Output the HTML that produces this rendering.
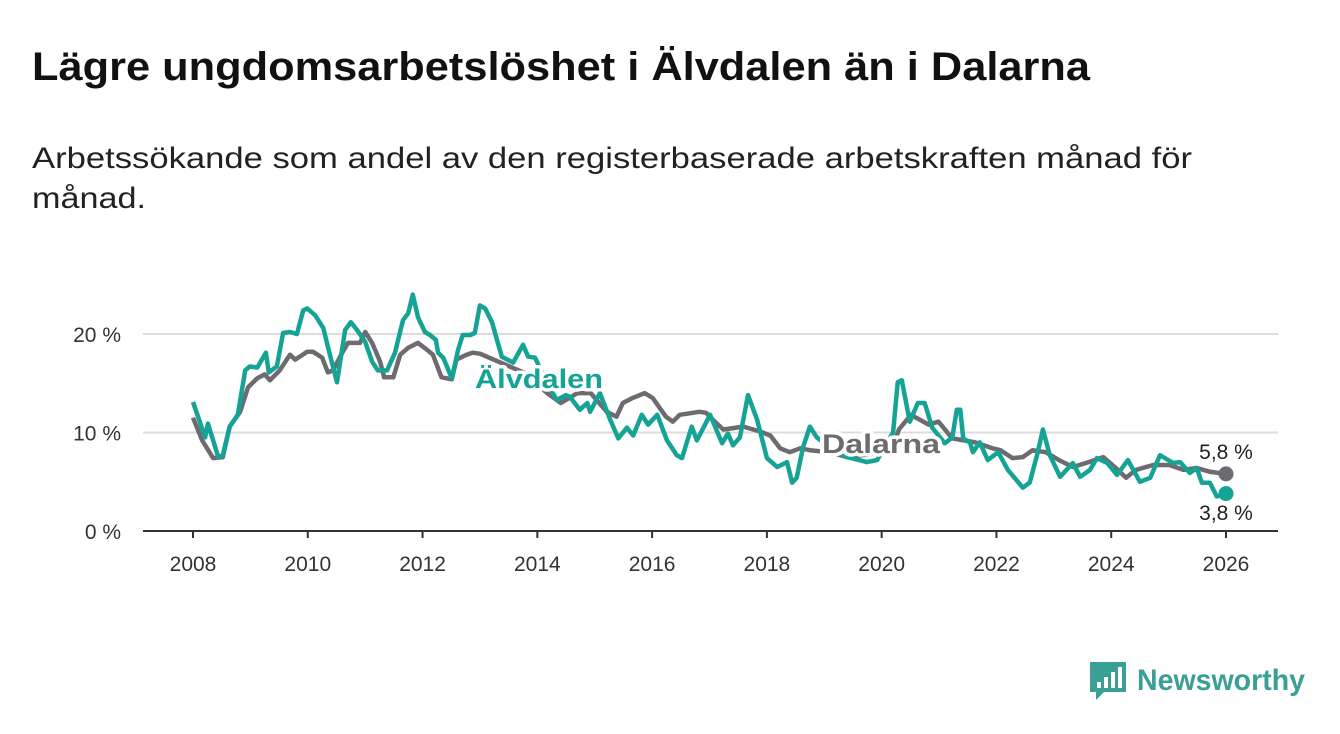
<!DOCTYPE html>
<html><head><meta charset="utf-8"><style>
body{margin:0;background:#fff;width:1340px;height:734px;overflow:hidden}
svg{display:block;font-family:"Liberation Sans",sans-serif}
</style></head><body>
<svg id="chart" width="1340" height="734">
<text x="32" y="80" font-size="40" font-weight="bold" fill="#111" textLength="1058" lengthAdjust="spacingAndGlyphs">Lägre ungdomsarbetslöshet i Älvdalen än i Dalarna</text>
<text x="32" y="168" font-size="30" fill="#222" textLength="1160" lengthAdjust="spacingAndGlyphs">Arbetssökande som andel av den registerbaserade arbetskraften månad för</text>
<text x="32" y="208" font-size="30" fill="#222" textLength="114" lengthAdjust="spacingAndGlyphs">månad.</text>
<g id="axes"></g>
<g id="series"></g>
<g id="labels"></g>
<g>
<path d="M1090 662 h36 v30 h-22 l-8 8 v-8 h-6 z" fill="#3aa096"/>
<rect x="1097" y="682" width="4" height="6" fill="#fff"/><rect x="1104" y="677" width="4" height="11" fill="#fff"/><rect x="1111" y="672" width="4" height="16" fill="#fff"/><rect x="1118" y="667" width="4" height="21" fill="#fff"/>
<text x="1137" y="690" font-size="30" font-weight="bold" fill="#3aa096" textLength="168" lengthAdjust="spacingAndGlyphs">Newsworthy</text>
</g>
</svg>
<script>
const yTicks=[0,10,20];
const yTickLabels=["0 %","10 %","20 %"];
const xTicks=[2008,2010,2012,2014,2016,2018,2020,2022,2024,2026];
const alvDates=[2008.00,2008.21,2008.26,2008.44,2008.52,2008.64,2008.78,2008.91,2008.99,2009.12,2009.27,2009.32,2009.46,2009.57,2009.69,2009.81,2009.92,2009.99,2010.13,2010.27,2010.35,2010.51,2010.65,2010.75,2010.86,2011.00,2011.12,2011.22,2011.38,2011.52,2011.66,2011.75,2011.83,2011.92,2012.04,2012.13,2012.23,2012.27,2012.36,2012.51,2012.62,2012.70,2012.83,2012.91,2013.00,2013.09,2013.21,2013.38,2013.58,2013.75,2013.84,2013.96,2014.17,2014.34,2014.50,2014.57,2014.74,2014.87,2014.92,2015.09,2015.27,2015.41,2015.56,2015.67,2015.82,2015.93,2016.09,2016.26,2016.43,2016.52,2016.69,2016.78,2017.01,2017.22,2017.32,2017.41,2017.53,2017.67,2017.83,2018.00,2018.18,2018.35,2018.44,2018.52,2018.63,2018.75,2018.87,2019.10,2019.40,2019.74,2019.92,2020.20,2020.28,2020.35,2020.49,2020.63,2020.75,2020.88,2021.10,2021.23,2021.31,2021.37,2021.42,2021.54,2021.59,2021.71,2021.85,2022.03,2022.20,2022.46,2022.58,2022.72,2022.81,2022.93,2023.11,2023.33,2023.46,2023.63,2023.75,2023.93,2024.10,2024.29,2024.50,2024.68,2024.85,2025.08,2025.20,2025.37,2025.49,2025.58,2025.72,2025.84,2026.00];
const alvValues=[13.1,9.5,10.9,7.5,7.7,10.6,11.8,16.3,16.7,16.6,18.1,16.1,16.7,20.1,20.2,20.0,22.4,22.6,21.9,20.6,18.7,15.1,20.4,21.2,20.4,19.2,17.2,16.3,16.3,18.1,21.4,22.1,24.0,21.7,20.2,19.9,19.4,18.1,17.6,15.5,18.4,19.9,19.9,20.1,22.9,22.6,21.2,17.7,17.1,18.9,17.7,17.6,15.0,13.3,13.8,13.6,12.3,13.0,12.1,14.0,11.3,9.4,10.5,9.7,11.8,10.8,11.8,9.2,7.7,7.4,10.6,9.2,11.8,8.9,9.9,8.7,9.5,13.8,11.3,7.4,6.5,7.0,4.9,5.4,8.5,10.6,9.5,8.5,7.5,7.0,7.2,10.0,15.1,15.3,11.1,13.0,13.0,10.5,8.9,9.5,12.3,12.3,9.4,9.0,8.0,9.0,7.2,8.0,6.2,4.4,4.9,8.0,10.3,7.7,5.5,6.9,5.5,6.2,7.4,6.9,5.7,7.2,5.0,5.4,7.7,6.9,7.0,5.9,6.4,4.9,4.9,3.5,3.8];
const dalDates=[2008.00,2008.16,2008.35,2008.52,2008.64,2008.82,2008.96,2009.12,2009.25,2009.34,2009.51,2009.69,2009.78,2009.99,2010.09,2010.25,2010.35,2010.44,2010.61,2010.70,2010.91,2011.00,2011.12,2011.26,2011.33,2011.49,2011.61,2011.75,2011.92,2012.08,2012.18,2012.33,2012.51,2012.59,2012.77,2012.87,2013.00,2013.40,2013.80,2014.17,2014.41,2014.70,2014.93,2015.21,2015.38,2015.49,2015.66,2015.87,2016.01,2016.24,2016.36,2016.48,2016.83,2016.94,2017.11,2017.24,2017.59,2017.88,2018.06,2018.23,2018.40,2018.58,2018.75,2019.10,2019.40,2019.80,2020.20,2020.30,2020.51,2020.82,2020.99,2021.23,2021.63,2021.93,2022.07,2022.28,2022.46,2022.63,2022.86,2023.09,2023.33,2023.61,2023.86,2024.08,2024.26,2024.43,2024.73,2025.01,2025.26,2025.49,2025.73,2026.00];
const dalValues=[11.5,9.2,7.4,7.5,10.6,12.1,14.6,15.5,15.9,15.3,16.3,17.9,17.4,18.2,18.2,17.6,16.1,16.3,18.2,19.1,19.1,20.2,19.1,17.2,15.6,15.6,17.9,18.6,19.1,18.4,17.9,15.6,15.4,17.4,17.9,18.1,18.0,17.0,16.0,14.0,13.0,14.0,14.0,12.1,11.6,13.0,13.5,14.0,13.5,11.6,11.1,11.8,12.1,12.0,11.0,10.3,10.6,10.1,9.7,8.4,8.0,8.4,8.2,8.0,7.5,7.8,8.5,10.3,11.8,10.8,11.1,9.4,9.0,8.4,8.2,7.4,7.5,8.2,8.0,7.2,6.5,7.0,7.5,6.4,5.4,6.2,6.7,6.7,6.2,6.4,6.0,5.8];
const NS='http://www.w3.org/2000/svg';
const X0=193,X1=1226,Y0=531,PX=9.85;
function xs(d){return X0+(d-2008)*(X1-X0)/18;}
function ys(v){return Y0-v*PX;}
function mk(tag,attrs,parent){const e=document.createElementNS(NS,tag);for(const k in attrs)e.setAttribute(k,attrs[k]);parent.appendChild(e);return e;}
const axes=document.getElementById('axes');
yTicks.forEach((t,i)=>{
 if(t>0){const g=mk('line',{x1:143,x2:1278,y1:ys(t),y2:ys(t),stroke:'#dcdcdc','stroke-width':2},axes);
 
 }
 const tx=mk('text',{x:121,y:ys(t)+8,'font-size':21,fill:'#333','text-anchor':'end'},axes);
 tx.textContent=yTickLabels[i];
 
 
});
const ax=mk('line',{x1:143,x2:1278,y1:Y0,y2:Y0,stroke:'#333','stroke-width':2},axes);


xTicks.forEach(t=>{
 const tk=mk('line',{x1:xs(t),x2:xs(t),y1:Y0,y2:Y0+7,stroke:'#333','stroke-width':2},axes);
 
 
 const tx=mk('text',{x:xs(t),y:571,'font-size':21,fill:'#333','text-anchor':'middle'},axes);
 tx.textContent=t;
 
 
});
const series=document.getElementById('series');
function line(dates,vals,color,name){
 const d=dates.map((t,i)=>(i?'L':'M')+xs(t).toFixed(1)+' '+ys(vals[i]).toFixed(1)).join(' ');
 const p=mk('path',{d:d,fill:'none',stroke:color,'stroke-width':4.5,'stroke-linejoin':'round'},series);
 
 
 const c=mk('circle',{cx:xs(dates[dates.length-1]),cy:ys(vals[vals.length-1]),r:7.5,fill:color},series);
 
 
}
line(dalDates,dalValues,'#6e6b70','dalarna');
line(alvDates,alvValues,'#14a394','alvdalen');
const labels=document.getElementById('labels');
function lab(x,y,txt,color,size,bold,name,anchor,len){
 const t=mk('text',{x:x,y:y,'font-size':size,fill:color,'font-weight':bold?'bold':'normal','text-anchor':anchor||'start',stroke:'#fff','stroke-width':bold?7:0,'paint-order':'stroke','stroke-linejoin':'round'},labels);
 if(len){t.setAttribute('textLength',len);t.setAttribute('lengthAdjust','spacingAndGlyphs');}
 t.textContent=txt;
 
 
}
lab(475,388,'Älvdalen','#14a394',27,true,'alvdalen-label','start',128);
lab(822,453,'Dalarna','#6e6b70',27,true,'dalarna-label','start',118);
lab(1226,459,'5,8 %','#222',21,false,'dalarna-end-value','middle');
lab(1226,520,'3,8 %','#222',21,false,'alvdalen-end-value','middle');
</script>
</body></html>
